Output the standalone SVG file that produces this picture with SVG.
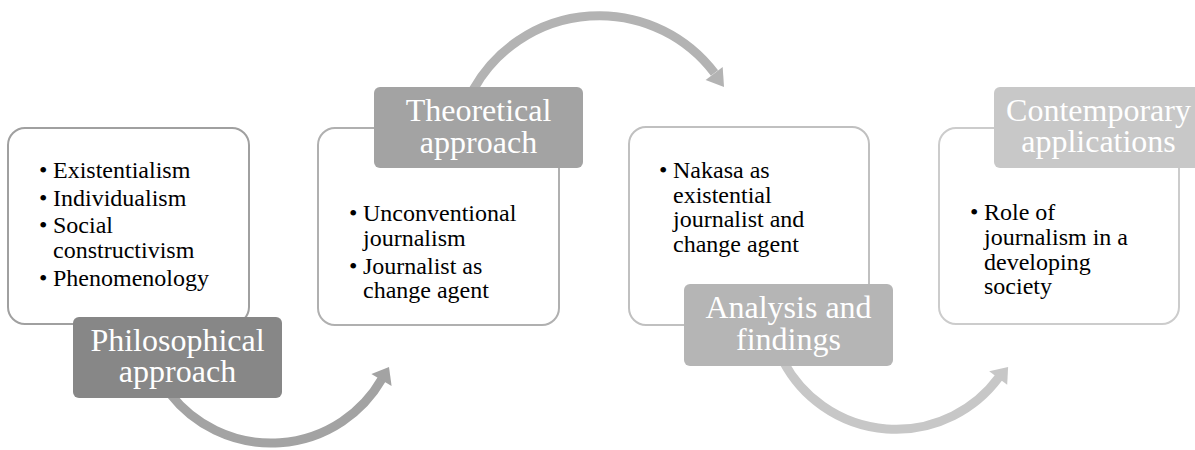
<svg xmlns="http://www.w3.org/2000/svg" width="1195" height="450" viewBox="0 0 1195 450">
<style>
.box{fill:#ffffff;stroke-width:2}
.lbl{font-family:"Liberation Serif","Times New Roman",serif;font-size:32px;fill:#ffffff;text-anchor:middle}
.txt{font-family:"Liberation Serif","Times New Roman",serif;font-size:24px;fill:#000000}
.arc{fill:none;stroke-width:9}
</style>
<rect width="1195" height="450" fill="#ffffff"/>
<g id="connectors">
  <path class="arc" stroke="#a3a3a3" d="M170.1,393.8 A128,128 0 0 0 381.9,379.0"/>
  <polygon fill="#a3a3a3" points="389,367 371.4,374.1 391.6,386.1"/>
  <path class="arc" stroke="#b3b3b3" d="M473.5,89.2 A144.4,144.4 0 0 1 714.5,73"/>
  <polygon fill="#b3b3b3" points="724,87 705.6,79.9 722.7,66.9"/>
  <path class="arc" stroke="#c7c7c7" d="M783.3,361.3 A127.6,127.6 0 0 0 998.8,377.4"/>
  <polygon fill="#c7c7c7" points="1008.1,366.9 989.2,371.3 1007.2,384.8"/>
</g>
<g id="node1">
  <rect class="box" stroke="#a0a0a0" x="8" y="128" width="241" height="196" rx="17"/>
  <text class="txt" x="39" y="178">•</text><text class="txt" x="53" y="178">Existentialism</text>
  <text class="txt" x="39" y="206">•</text><text class="txt" x="53" y="206">Individualism</text>
  <text class="txt" x="39" y="233">•</text><text class="txt"><tspan x="53" y="233">Social</tspan><tspan x="53" y="258">constructivism</tspan></text>
  <text class="txt" x="39" y="286">•</text><text class="txt" x="53" y="286">Phenomenology</text>
  <rect fill="#878787" x="73" y="317" width="209" height="81" rx="6"/>
  <text class="lbl"><tspan x="177.5" y="351">Philosophical</tspan><tspan x="177.5" y="382">approach</tspan></text>
</g>
<g id="node2">
  <rect class="box" stroke="#b0b0b0" x="318" y="128" width="241" height="197" rx="17"/>
  <text class="txt" x="349" y="221">•</text><text class="txt"><tspan x="363" y="221">Unconventional</tspan><tspan x="363" y="246">journalism</tspan></text>
  <text class="txt" x="349" y="274">•</text><text class="txt"><tspan x="363" y="274">Journalist as</tspan><tspan x="363" y="298">change agent</tspan></text>
  <rect fill="#a3a3a3" x="374" y="87" width="209" height="81" rx="6"/>
  <text class="lbl"><tspan x="478.5" y="121">Theoretical</tspan><tspan x="478.5" y="153">approach</tspan></text>
</g>
<g id="node3">
  <rect class="box" stroke="#c0c0c0" x="629" y="127" width="240" height="198" rx="17"/>
  <text class="txt" x="659" y="178">•</text><text class="txt"><tspan x="673" y="178">Nakasa as</tspan><tspan x="673" y="203">existential</tspan><tspan x="673" y="227">journalist and</tspan><tspan x="673" y="252">change agent</tspan></text>
  <rect fill="#b5b5b5" x="684" y="284" width="209" height="82" rx="6"/>
  <text class="lbl"><tspan x="788.5" y="318">Analysis and</tspan><tspan x="788.5" y="350">findings</tspan></text>
</g>
<g id="node4">
  <rect class="box" stroke="#cccccc" x="939" y="128" width="240" height="196" rx="17"/>
  <text class="txt" x="970" y="220">•</text><text class="txt"><tspan x="984" y="220">Role of</tspan><tspan x="984" y="245">journalism in a</tspan><tspan x="984" y="270">developing</tspan><tspan x="984" y="294">society</tspan></text>
  <rect fill="#c8c8c8" x="994" y="87" width="209" height="81" rx="6"/>
  <text class="lbl"><tspan x="1098.5" y="121">Contemporary</tspan><tspan x="1098.5" y="152">applications</tspan></text>
</g>
</svg>
